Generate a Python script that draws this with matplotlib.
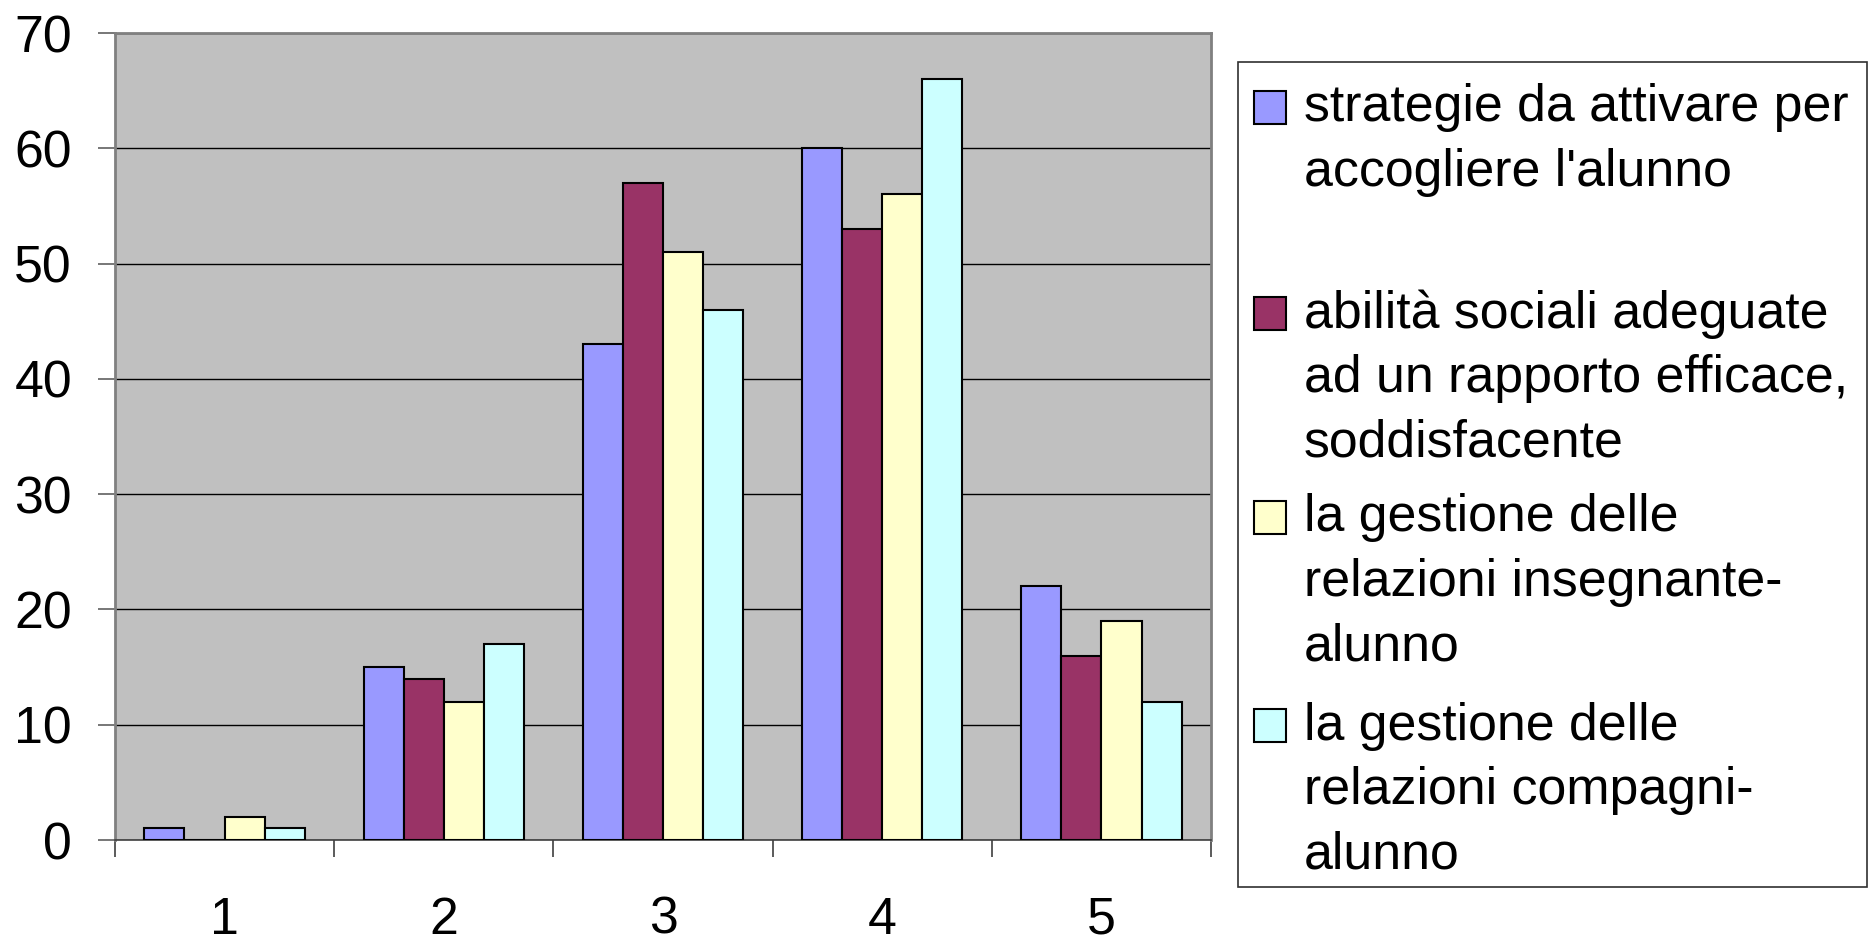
import matplotlib
matplotlib.use('Agg')
import matplotlib.pyplot as plt
import numpy as np
from matplotlib.patches import Rectangle

plt.rcParams['font.family'] = ['Liberation Sans', 'DejaVu Sans']

# data
categories = ['1', '2', '3', '4', '5']
strategie = [1, 15, 43, 60, 22]
abilita = [0, 14, 57, 53, 16]
insegnante = [2, 12, 51, 56, 19]
compagni = [1, 17, 46, 66, 12]

series = [strategie, abilita, insegnante, compagni]
labels = [
    "strategie da attivare per\naccogliere l'alunno",
    "abilità sociali adeguate\nad un rapporto efficace,\nsoddisfacente",
    "la gestione delle\nrelazioni insegnante-\nalunno",
    "la gestione delle\nrelazioni compagni-\nalunno",
]
colors = ['#9999FF', '#993366', '#FFFFCC', '#CCFFFF']

FS = 37.4
W, H = 1874, 946
fig = plt.figure(figsize=(W / 100, H / 100), dpi=100)
ax = fig.add_axes([115 / W, 1 - 840 / H, (1211 - 115) / W, (840 - 33) / H])
ax.set_facecolor('#C0C0C0')

x = np.arange(len(categories))
bw = 0.183
for i, (vals, col) in enumerate(zip(series, colors)):
    ax.bar(x + (i - 1.5) * bw, vals, width=bw, color=col,
           edgecolor='black', linewidth=1.5, zorder=3)

ax.set_xlim(-0.5, len(categories) - 0.5)
ax.set_ylim(0, 70)
ax.set_yticks(range(0, 71, 10))
ax.yaxis.grid(True, color='black', linewidth=1.0, zorder=1)
ax.tick_params(axis='y', labelsize=FS, length=12, width=1.2,
               color='#606060', pad=19)

ax.set_xticks(x)
ax.set_xticklabels(categories)
ax.set_xticks(np.arange(-0.5, len(categories)), minor=True)
ax.tick_params(axis='x', which='major', length=0, labelsize=FS, pad=40)
ax.tick_params(axis='x', which='minor', length=12, width=1.2, color='#404040')

for side in ['left', 'top', 'right']:
    ax.spines[side].set_color('#808080')
    ax.spines[side].set_linewidth(2)
ax.spines['bottom'].set_color('#404040')
ax.spines['bottom'].set_linewidth(1.2)

# legend drawn by hand so that the spacing matches the original
fig.add_artist(Rectangle((1238 / W, 1 - 887 / H), 629 / W, 825 / H,
                         transform=fig.transFigure, facecolor='white',
                         edgecolor='#303030', linewidth=1.2))
entry_top = [108, 314, 518, 726]
line_step = 64.5
for lab, col, y0 in zip(labels, colors, entry_top):
    fig.add_artist(Rectangle((1254 / W, 1 - (y0 + 16) / H), 32 / W, 33 / H,
                             transform=fig.transFigure, facecolor=col,
                             edgecolor='black', linewidth=1.5))
    for k, line in enumerate(lab.split('\n')):
        fig.text(1304 / W, 1 - (y0 + k * line_step) / H, line,
                 fontsize=FS, va='center', ha='left')

fig.savefig('out.png', dpi=100)
